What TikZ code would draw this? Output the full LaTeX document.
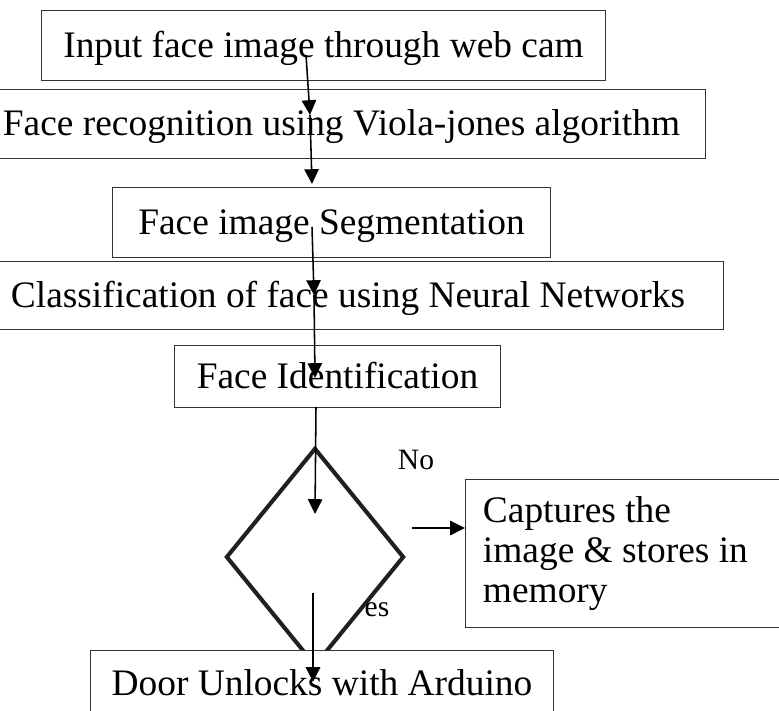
\documentclass[tikz,border=0pt]{standalone}
\usepackage{fontspec}
\setmainfont{Liberation Serif}
\usetikzlibrary{shapes.geometric,arrows.meta}
\definecolor{dunkel}{HTML}{231F20}

\begin{document}
\begin{tikzpicture}[x=0.025cm, y=-0.025cm,
      rahmen/.style={rectangle, draw=black!80, line width=0.7pt, fill=white, inner sep=0pt, font=\fontsize{26.6}{32}\selectfont},
      box/.style={rahmen, text height=0.63cm, text depth=0.02cm},
      frage/.style={diamond, draw=dunkel, line width=2.9pt, inner sep=0pt},
      marke/.style={inner sep=0pt, font=\fontsize{21}{25}\selectfont},
      pfeil/.style={-{Triangle[length=0.37cm,width=0.36cm]}, line width=1.1pt}]

\useasboundingbox (0,0) rectangle (779,711);
\clip (0,0) rectangle (779,711);

\node[frage, minimum width=4.45cm, minimum height=5.45cm] (dec) at (315,557) {};
\node[box, minimum width=14.075cm, minimum height=1.75cm] (in1) at (323.5,45) {Input face image through web cam};
\node[box, minimum width=18.175cm, minimum height=1.725cm] (rec2) at (341.5,123.5) {Face recognition using Viola-jones algorithm};
\node[box, minimum width=10.925cm, minimum height=1.75cm] (seg3) at (331.5,222) {Face image Segmentation};
\node[box, minimum width=18.75cm, minimum height=1.7cm] (cls4) at (348,295) {Classification of face using Neural Networks};
\node[box, minimum width=8.125cm, minimum height=1.55cm] (id5) at (337.5,376) {Face Identification};
\node[box, minimum width=11.55cm, minimum height=1.65cm] (door) at (322,683) {Door Unlocks with Arduino};
\node[rahmen, minimum width=8.1cm, minimum height=3.675cm, text width=7.25cm, inner xsep=0.425cm, align=flush left,
      font=\fontsize{26.6}{28.45}\selectfont] (cap) at (628,553.5) {Captures the\\ image \& stores in\\ memory};
\node[marke] (no) at (416,460) {No};
\node[marke] (yes) at (377,610) {es};

\coordinate (s1) at (306,55);
\coordinate (t1) at (310,115);
\coordinate (t2) at (312,184);
\coordinate (s3) at (312,227);
\coordinate (t3) at (314,295);
\coordinate (t4) at (315,378);
\coordinate (s5) at (316,407);
\coordinate (t5) at (315,514);
\coordinate (s6) at (412,528);
\coordinate (t6) at (465,528);
\coordinate (s7) at (313,593);
\coordinate (t7) at (313,682);

\draw[pfeil] (s1) -- (t1);
\draw[pfeil] (t1) -- (t2);
\draw[pfeil] (s3) -- (t3);
\draw[pfeil] (t3) -- (t4);
\draw[pfeil] (s5) -- (t5);
\draw[pfeil] (s6) -- (t6);
\draw[pfeil] (s7) -- (t7);

\end{tikzpicture}
\end{document}
